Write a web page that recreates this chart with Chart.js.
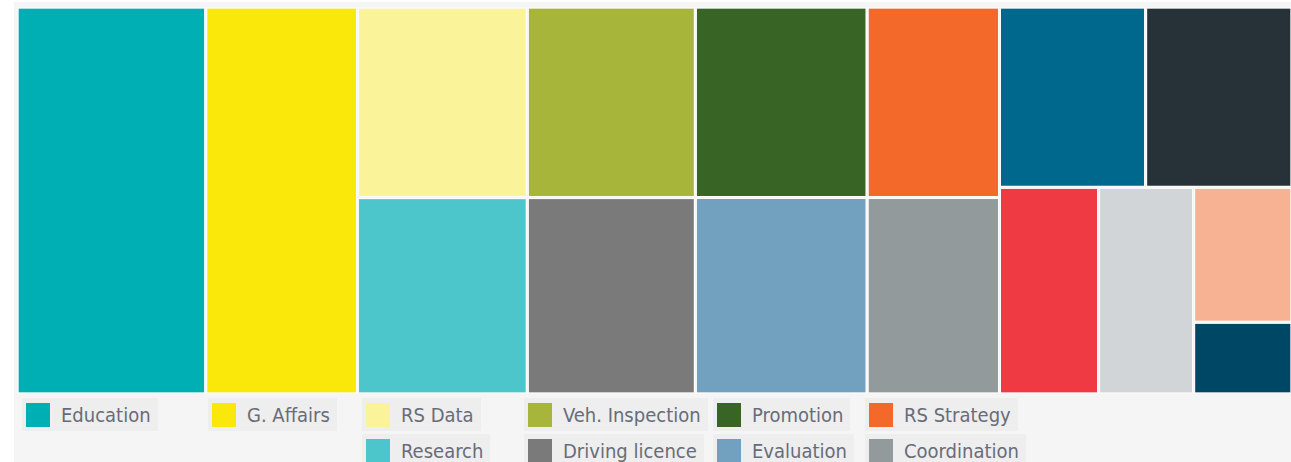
<!DOCTYPE html>
<html>
<head>
<meta charset="utf-8">
<script src="https://cdn.jsdelivr.net/npm/chart.js@4/dist/chart.umd.min.js"></script>
<style>
  html, body { margin: 0; padding: 0; background: #fff; overflow: hidden; }
  #panel { position: absolute; left: 14px; top: 2px; width: 1300px; height: 480px; background: #f5f5f5; }
  #myChart { position: absolute; left: 3px; top: 5px; }
  .item { position: absolute; height: 33px; background: #eeeeee; display: flex; align-items: center;
          font-family: "DejaVu Sans Condensed", "DejaVu Sans", sans-serif; font-size: 20px; color: #696c78;
          padding: 0 7px 0 4px; box-sizing: border-box; white-space: nowrap; }
  .item span.sw { width: 24px; height: 24px; margin-right: 11px; display: inline-block; }
</style>
</head>
<body>
<div id="panel">
  <canvas id="myChart" width="1275" height="387"></canvas>
</div>
<script>
const ctx = document.getElementById("myChart");

// categorias y valores (orden del treemap)
const categorias = [
  "Education", "G. Affairs", "RS Data", "Research", "Veh. Inspection", "Driving licence",
  "Promotion", "Evaluation", "RS Strategy", "Coordination",
  "", "", "", "", "", "",
];
const valores = [14.8, 11.9, 6.56, 6.76, 6.49, 6.69, 6.63, 6.84, 5.11, 5.27, 5.34, 5.35, 4.15, 3.98, 2.69, 1.43];
const colores = [
  "#00afb3", "#f9e80a", "#fbf39a", "#4cc6ca", "#a7b53a", "#7a7a7a",
  "#386526", "#72a1bf", "#f3692a", "#929a9b", "#00688d", "#263238",
  "#ef3a43", "#d2d5d7", "#f7b193", "#004766",
];
// grupos (indices de categorias), anidados
const grupos = [[0], [1], [2, 3], [4, 5], [6, 7], [8, 9], [[10, 11], [12, 13, [14, 15]]]];

// leyenda: columnas de items
const leyendaX = [8, 194, 348, 510, 699, 851];
const leyendaY = [396, 432];

const suma = (n) => (Array.isArray(n) ? n.reduce((s, c) => s + suma(c), 0) : valores[n]);

// slice-and-dice por nivel
const acomodar = (nodo, x0, y0, x1, y1, nivel, out) => {
  if (!Array.isArray(nodo)) {
    out.push({ i: nodo, x0, y0, x1, y1 });
    return;
  }
  const total = suma(nodo);
  let pos = nivel % 2 === 0 ? x0 : y0;
  nodo.forEach((hijo) => {
    const f = suma(hijo) / total;
    if (nivel % 2 === 0) {
      const w = (x1 - x0) * f;
      acomodar(hijo, pos, y0, pos + w, y1, nivel + 1, out);
      pos += w;
    } else {
      const h = (y1 - y0) * f;
      acomodar(hijo, x0, pos, x1, pos + h, nivel + 1, out);
      pos += h;
    }
  });
};

const celdas = [];
acomodar(grupos, 0, 0, 1, 1, 0, celdas);

const treemapPlugin = {
  id: "treemap",
  afterDatasetsDraw(chart) {
    const c = chart.ctx;
    const x = chart.scales.x;
    const y = chart.scales.y;
    c.save();
    celdas.forEach((r) => {
      const px0 = x.getPixelForValue(r.x0) + 1.5;
      const px1 = x.getPixelForValue(r.x1) - 1.5;
      const py0 = y.getPixelForValue(r.y0) + 1.5;
      const py1 = y.getPixelForValue(r.y1) - 1.5;
      c.fillStyle = colores[r.i];
      c.fillRect(px0, py0, px1 - px0, py1 - py0);
      c.strokeStyle = "rgba(255,255,255,0.7)";
      c.lineWidth = 1;
      c.strokeRect(px0 - 0.5, py0 - 0.5, px1 - px0 + 1, py1 - py0 + 1);
    });
    c.restore();
  },
};

new Chart(ctx, {
  type: "scatter",
  data: { datasets: [{ data: [] }] },
  options: {
    responsive: false,
    animation: false,
    devicePixelRatio: 1,
    layout: { padding: 0 },
    plugins: { legend: { display: false }, tooltip: { enabled: false } },
    scales: {
      x: { type: "linear", min: 0, max: 1, display: false },
      y: { type: "linear", min: 0, max: 1, display: false, reverse: true },
    },
  },
  plugins: [treemapPlugin],
});

// leyenda html
const panel = document.getElementById("panel");
grupos.slice(0, leyendaX.length).forEach((g, col) => {
  g.forEach((idx, fila) => {
    const d = document.createElement("div");
    d.className = "item";
    d.style.left = leyendaX[col] + "px";
    d.style.top = leyendaY[fila] + "px";
    d.innerHTML = '<span class="sw" style="background:' + colores[idx] + '"></span>' + categorias[idx];
    panel.appendChild(d);
  });
});
</script>
</body>
</html>
